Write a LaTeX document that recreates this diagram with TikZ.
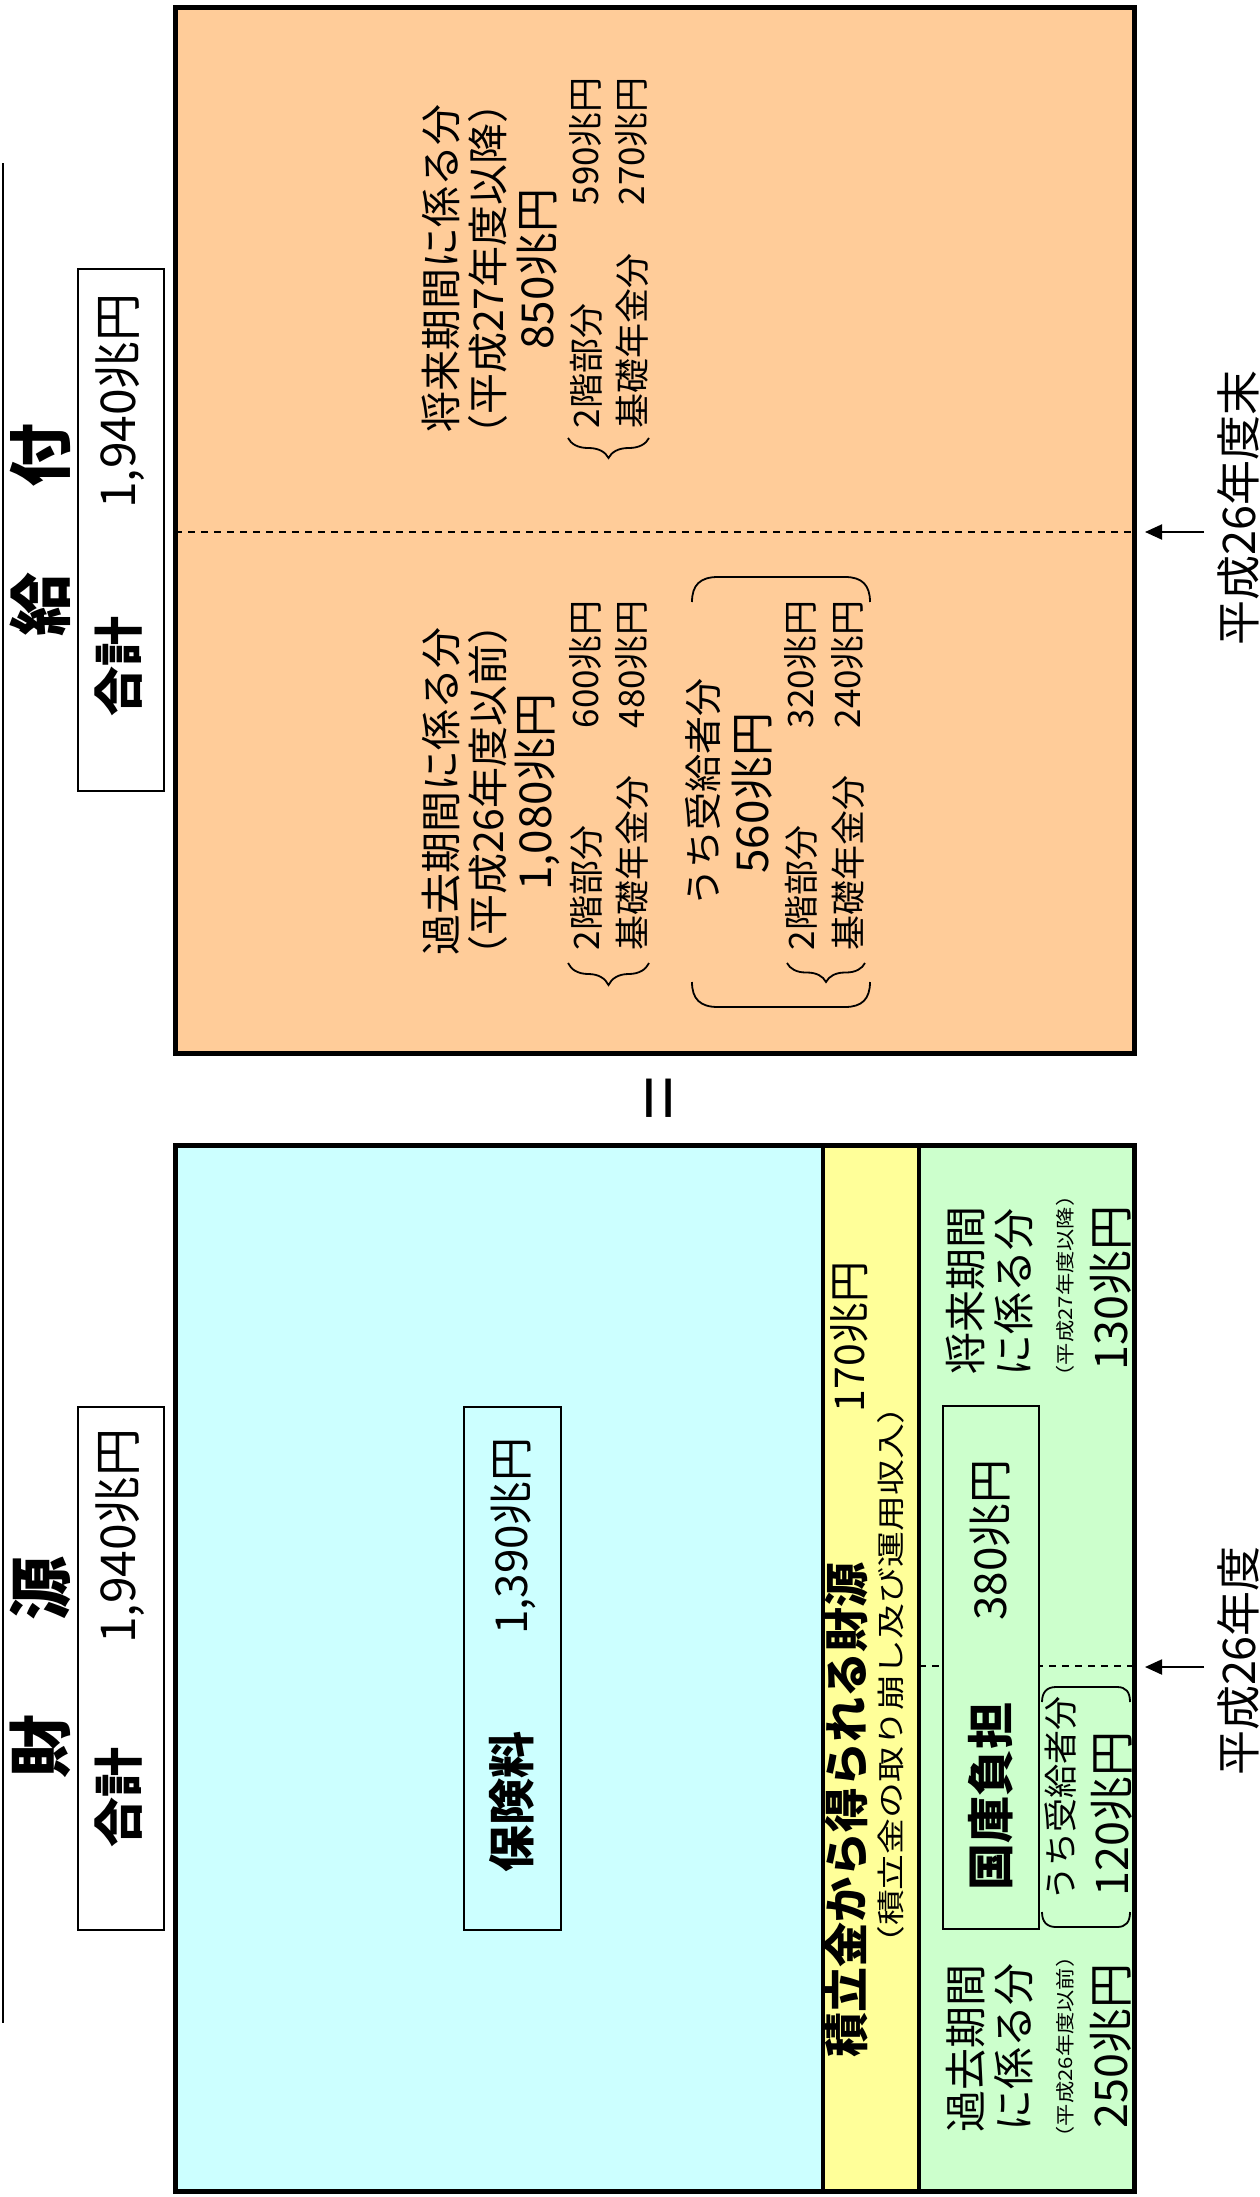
\documentclass[tikz,border=0pt]{standalone}
\usepackage{fontspec}
\setmainfont{Noto Sans CJK JP}
\usetikzlibrary{arrows.meta,decorations.pathreplacing}
\newcommand\myfs[1]{\fontsize{#1pt}{#1pt}\selectfont}
\definecolor{orangeF}{HTML}{FFCC99}
\definecolor{cyanF}{HTML}{CCFFFF}
\definecolor{yellowF}{HTML}{FFFF99}
\definecolor{greenF}{HTML}{CCFFCC}
\begin{document}
\begin{tikzpicture}[x=1pt,y=-1pt,
  txt/.style={rotate=90, inner sep=0pt, outer sep=0pt},
  bx/.style={draw=black, line width=1.6pt, inner sep=0pt},
  frame/.style={draw=black, line width=5pt},
  divider/.style={draw=black, line width=4pt},
  dashline/.style={draw=black, line width=1.5pt, dash pattern=on 7pt off 6pt},
  thinline/.style={draw=black, line width=1.8pt},
  bracebar/.style={draw=black, line width=1.8pt, decorate, decoration={brace, mirror, amplitude=#1}},
  arr/.style={draw=black, line width=2pt, -{Triangle[length=17pt,width=15pt]}}
]
\useasboundingbox (0,0) rectangle (1260,2197);

% fills
\fill[orangeF] (175,8) rectangle (1134,1053);
\fill[cyanF] (175,1145) rectangle (823,2191);
\fill[yellowF] (823,1145) rectangle (919,2191);
\fill[greenF] (919,1145) rectangle (1134,2191);

% dashed lines
\draw[dashline] (175,532) -- (1134,532);
\draw[dashline] (919,1666) -- (1134,1666);

% inner boxes
\node[bx, fill=white, minimum width=86pt, minimum height=522pt] (boxG) at (121,530) {};
\node[bx, fill=white, minimum width=86pt, minimum height=523pt] (boxZ) at (121,1668.5) {};
\node[bx, fill=cyanF, minimum width=97pt, minimum height=523pt] (boxH) at (512.5,1668.5) {};
\node[bx, fill=greenF, minimum width=96pt, minimum height=523pt] (boxK) at (991,1667.5) {};

% frames
\draw[frame] (175,8) rectangle (1134,1053);
\draw[frame] (175,1145) rectangle (1134,2191);
\draw[divider] (823,1145) -- (823,2191);
\draw[divider] (919,1145) -- (919,2191);

% left rule
\draw[line width=2.5pt] (3,163) -- (3,2023);

% titles
\node[txt, font=\bfseries\myfs{64}] (tKyu) at (40,604) {給};
\node[txt, font=\bfseries\myfs{64}] (tFu) at (40,455) {付};
\node[txt, font=\bfseries\myfs{64}] (tZai) at (40,1746) {財};
\node[txt, font=\bfseries\myfs{64}] (tGen) at (40,1588) {源};

% totals
\node[txt, font=\bfseries\myfs{50}] (gokeiG) at (119,666) {合計};
\node[txt, font=\myfs{48}] (amtG) at (120,401) {1,940兆円};
\node[txt, font=\bfseries\myfs{50}] (gokeiZ) at (119,1797) {合計};
\node[txt, font=\myfs{48}] (amtZ) at (120,1536) {1,940兆円};

% hokenryo
\node[txt, font=\bfseries\myfs{47}] (hoken) at (512,1802) {保険料};
\node[txt, font=\myfs{44}] (amtH) at (513,1536) {1,390兆円};

% orange upper block
\node[txt, font=\myfs{41}] (fut1) at (441,268) {将来期間に係る分};
\node[txt, font=\myfs{41}] (fut2) at (488,269) {（平成27年度以降）};
\node[txt, font=\myfs{44}] (fut3) at (537,269) {850兆円};
\node[txt, font=\myfs{35}, anchor=west] (fut4) at (586,428) {2階部分};
\node[txt, font=\myfs{35}, anchor=east] (fut4a) at (586,77) {590兆円};
\node[txt, font=\myfs{35}, anchor=west] (fut5) at (632,428) {基礎年金分};
\node[txt, font=\myfs{35}, anchor=east] (fut5a) at (632,77) {270兆円};
\draw[bracebar=20pt] (568,438) -- (649,438);

% orange lower block
\node[txt, font=\myfs{41}] (pst1) at (441,791) {過去期間に係る分};
\node[txt, font=\myfs{41}] (pst2) at (488,790) {（平成26年度以前）};
\node[txt, font=\myfs{44}] (pst3) at (537,792) {1,080兆円};
\node[txt, font=\myfs{35}, anchor=west] (pst4) at (586,950) {2階部分};
\node[txt, font=\myfs{35}, anchor=east] (pst4a) at (586,600) {600兆円};
\node[txt, font=\myfs{35}, anchor=west] (pst5) at (632,950) {基礎年金分};
\node[txt, font=\myfs{35}, anchor=east] (pst5a) at (632,600) {480兆円};
\draw[bracebar=22pt] (568,963) -- (649,963);

\draw[thinline] (692,602) .. controls (692,585) and (700,577) .. (718,577) -- (845,577) .. controls (862,577) and (870,585) .. (870,602);
\draw[thinline] (692,982) .. controls (692,999) and (700,1007) .. (718,1007) -- (845,1007) .. controls (862,1007) and (870,999) .. (870,982);
\node[txt, font=\myfs{38}] (uchi1) at (703,792) {うち受給者分};
\node[txt, font=\myfs{44}] (uchi2) at (752,793) {560兆円};
\node[txt, font=\myfs{35}, anchor=west] (uchi3) at (801,950) {2階部分};
\node[txt, font=\myfs{35}, anchor=east] (uchi3a) at (801,600) {320兆円};
\node[txt, font=\myfs{35}, anchor=west] (uchi4) at (848,950) {基礎年金分};
\node[txt, font=\myfs{35}, anchor=east] (uchi4a) at (848,600) {240兆円};
\draw[bracebar=19pt] (787,963) -- (865,963);

% equals
\node[txt, font=\myfs{80}] (eq) at (668,1098) {=};

% right labels and arrows
\node[txt, font=\myfs{45}] (lblEnd) at (1238,508) {平成26年度末};
\node[txt, font=\myfs{45}] (lblYr) at (1238,1661) {平成26年度};
\coordinate (a1s) at (1204,532); \coordinate (a1e) at (1145,532);
\coordinate (a2s) at (1204,1667); \coordinate (a2e) at (1145,1667);
\draw[arr] (a1s) -- (a1e);
\draw[arr] (a2s) -- (a2e);

% yellow strip
\node[txt, font=\bfseries\myfs{45}] (tsumi1) at (846,1810) {積立金から得られる財源};
\node[txt, font=\myfs{41}] (tsumi2) at (849,1337) {170兆円};
\node[txt, font=\myfs{28}, xscale=1.28] (tsumi3) at (891,1675) {（積立金の取り崩し及び運用収入）};

% green strip upper
\node[txt, font=\myfs{42}] (gf1) at (966,1290) {将来期間};
\node[txt, font=\myfs{42}] (gf2) at (1014,1292) {に係る分};
\node[txt, font=\myfs{19}, xscale=1.17] (gf3) at (1065,1286) {（平成27年度以降）};
\node[txt, font=\myfs{45}] (gf4) at (1111,1288) {130兆円};

% kokko box
\node[txt, font=\myfs{44}] (kk1) at (990,1540) {380兆円};
\node[txt, font=\bfseries\myfs{47}] (kk2) at (991,1796) {国庫負担};

\draw[thinline] (1042,1702) .. controls (1042,1692) and (1047,1687) .. (1056,1687) -- (1117,1687) .. controls (1126,1687) and (1130,1692) .. (1130,1702);
\draw[thinline] (1042,1912) .. controls (1042,1922) and (1047,1927) .. (1056,1927) -- (1117,1927) .. controls (1126,1927) and (1130,1922) .. (1130,1912);
\node[txt, font=\myfs{34}] (gu1) at (1061,1798) {うち受給者分};
\node[txt, font=\myfs{45}] (gu2) at (1112,1814) {120兆円};

% green strip lower
\node[txt, font=\myfs{42}] (gp1) at (966,2048) {過去期間};
\node[txt, font=\myfs{42}] (gp2) at (1014,2047) {に係る分};
\node[txt, font=\myfs{19}, xscale=1.17] (gp3) at (1065,2047) {（平成26年度以前）};
\node[txt, font=\myfs{45}] (gp4) at (1111,2046) {250兆円};
\end{tikzpicture}
\end{document}
